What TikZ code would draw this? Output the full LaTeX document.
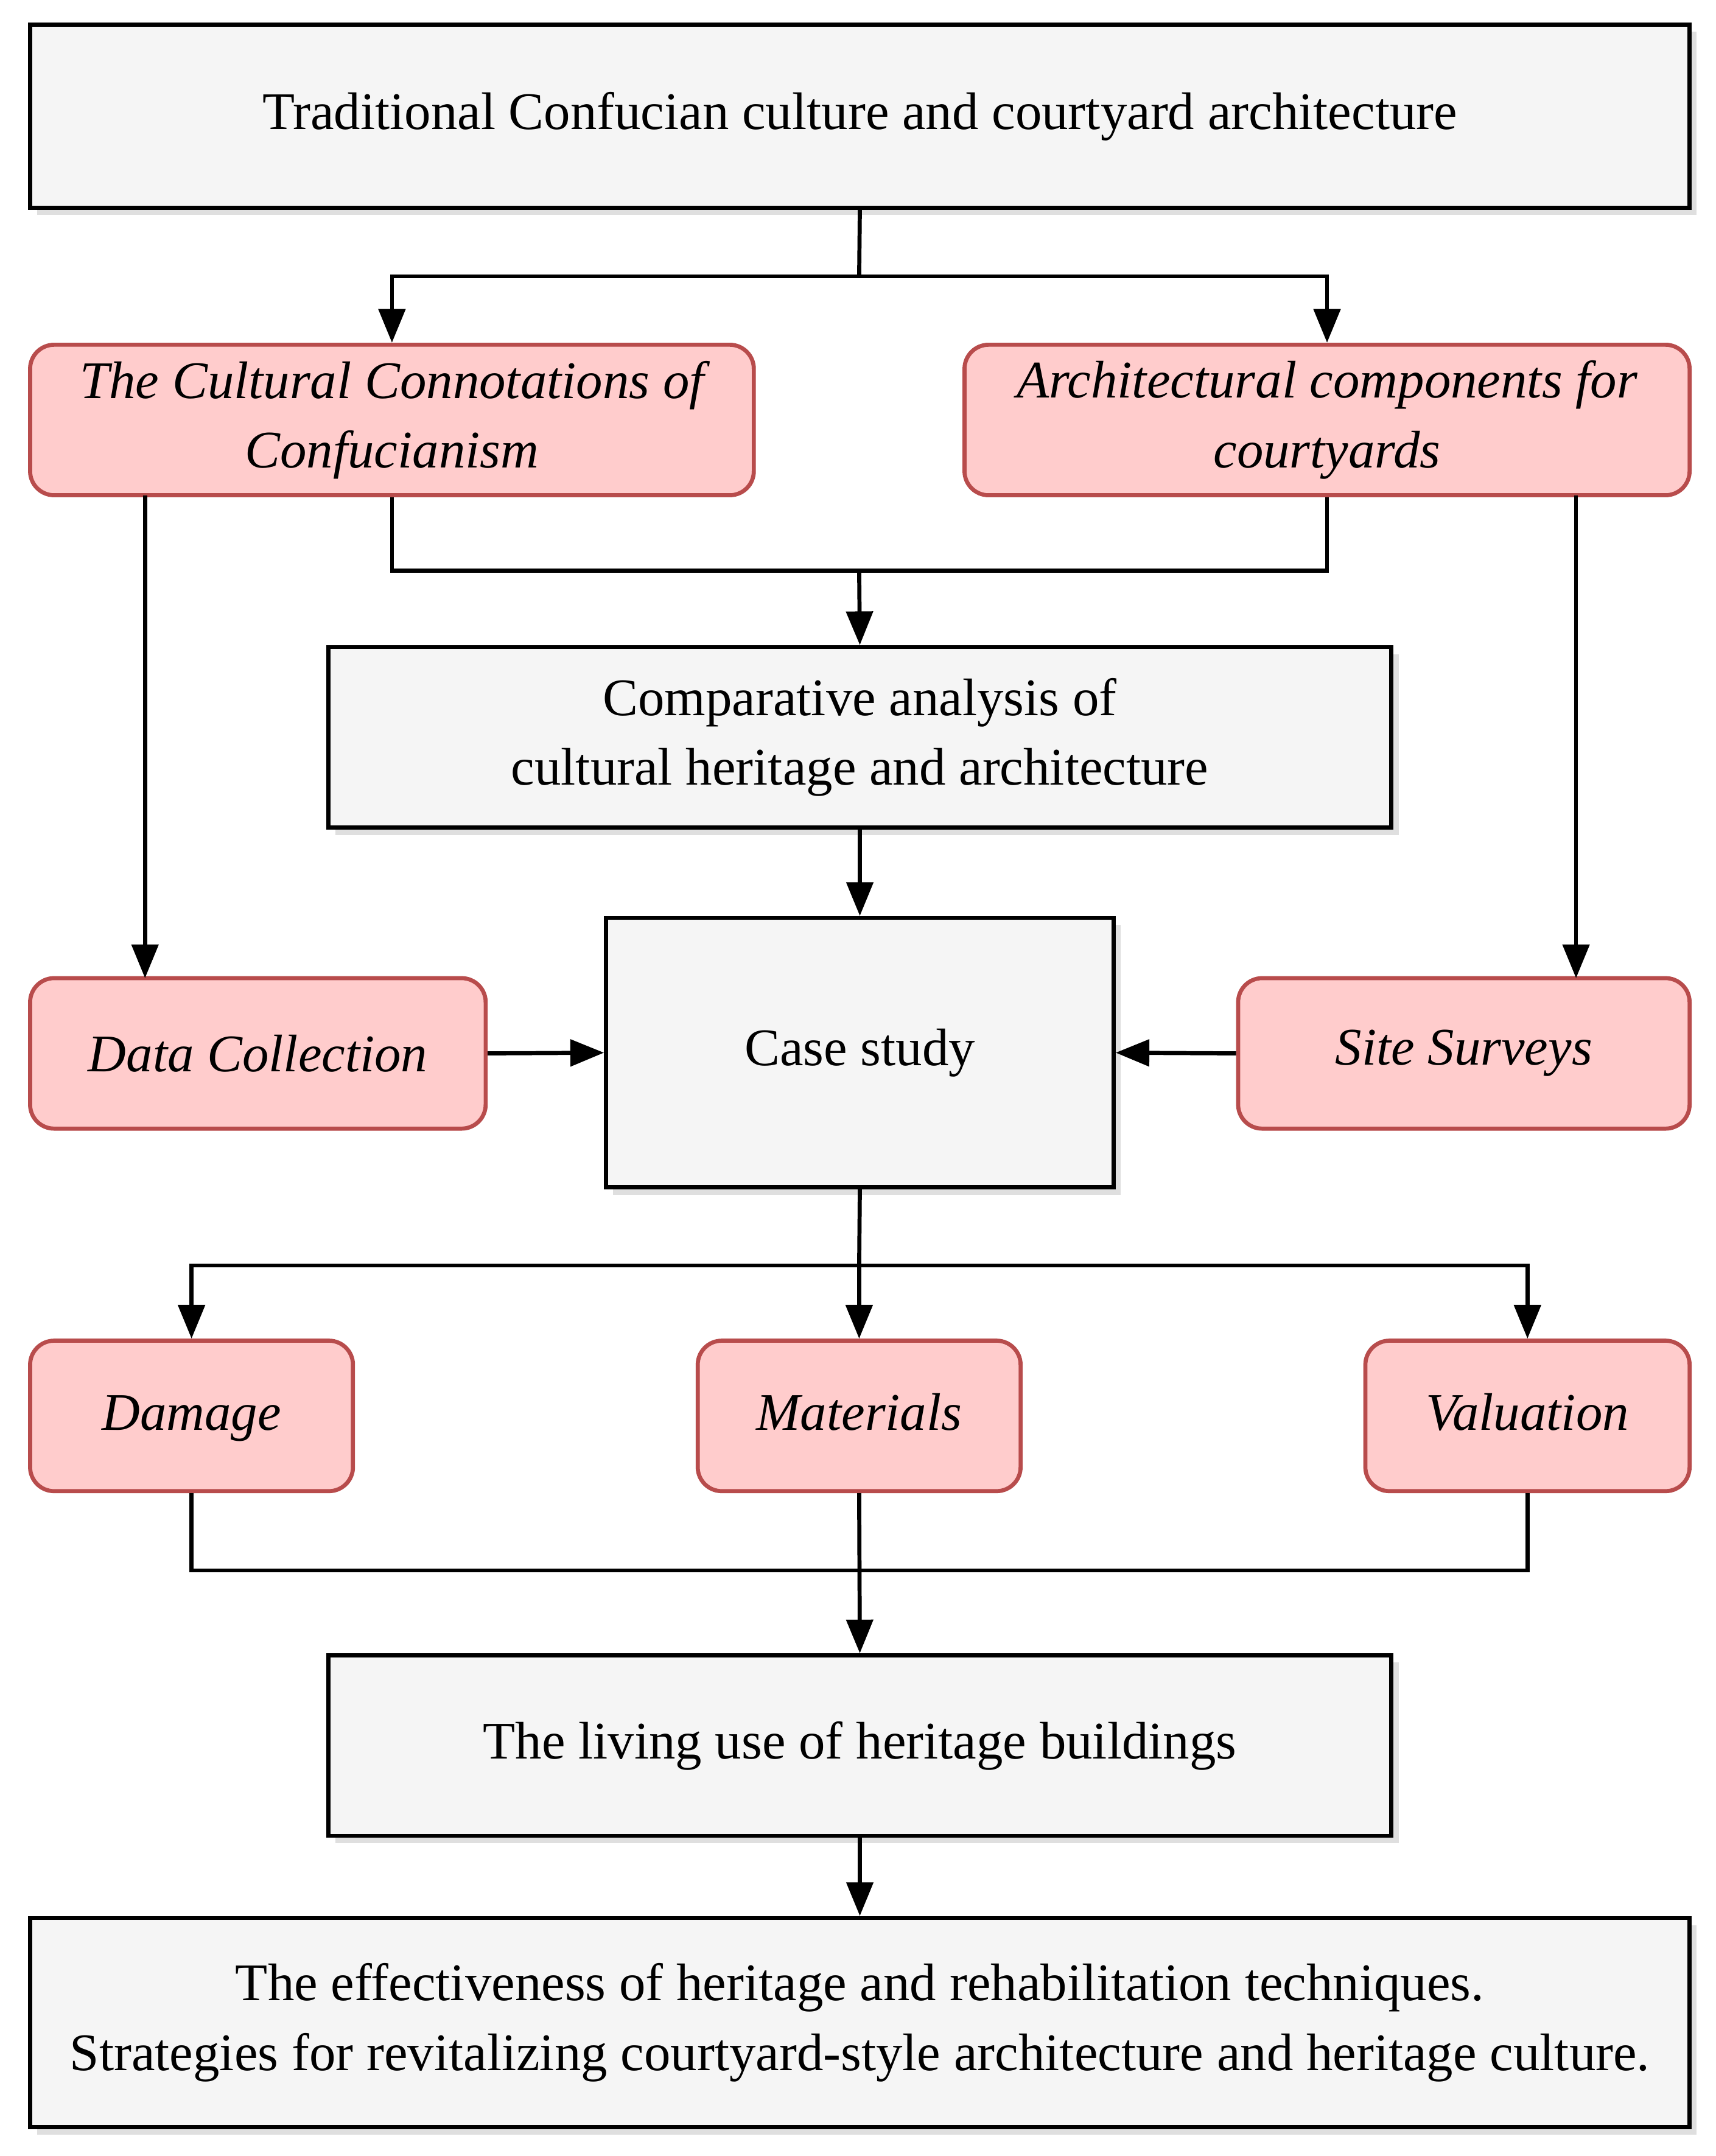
\documentclass[tikz,border=0pt]{standalone}
\usepackage{fontspec}
\setmainfont{Liberation Serif}
\usetikzlibrary{arrows.meta,shadows}
\begin{document}
\begin{tikzpicture}[x=0.02cm,y=-0.02cm,
  gbox/.style={draw=black,line width=1.7pt,fill=gray!8,inner sep=0pt,align=center,font=\fontsize{22}{29}\selectfont,
    drop shadow={shadow xshift=3pt,shadow yshift=-3pt,fill=gray!50}},
  rbox/.style={draw=red!60!black!70,line width=1.7pt,fill=red!20,rounded corners=10pt,inner sep=0pt,align=center,font=\fontsize{22}{29}\selectfont\itshape},
  ln/.style={line width=1.7pt},
  ar/.style={line width=1.7pt,-{Triangle[length=14pt,width=11pt]}}]
\useasboundingbox (0,0) rectangle (1254,1576);
\newcommand{\bx}[7]{\node[#1,minimum width={(#4-#3)*0.02cm},minimum height={(#6-#5)*0.02cm}] (#2) at ({(#3+#4)/2},{(#5+#6)/2}) {#7};}
\bx{gbox}{top}{22}{1235}{18}{152}{Traditional Confucian culture and courtyard architecture}
\bx{rbox}{cul}{22}{551}{252}{362}{The Cultural Connotations of\\Confucianism}
\bx{rbox}{arc}{705}{1235}{252}{362}{Architectural components for\\courtyards}
\bx{gbox}{cmp}{240}{1017}{473}{605}{Comparative analysis of\\cultural heritage and architecture}
\bx{rbox}{dat}{22}{355}{715}{825}{Data Collection}
\bx{gbox}{cas}{443}{814}{671}{868}{Case study}
\bx{rbox}{sit}{905}{1235}{715}{825}{Site Surveys}
\bx{rbox}{dam}{22}{258}{980}{1090}{Damage\strut}
\bx{rbox}{mat}{510}{746}{980}{1090}{Materials\strut}
\bx{rbox}{val}{998}{1235}{980}{1090}{Valuation\strut}
\bx{gbox}{liv}{240}{1017}{1210}{1342}{The living use of heritage buildings}
\bx{gbox}{bot}{22}{1235}{1402}{1555}{The effectiveness of heritage and rehabilitation techniques.\\Strategies for revitalizing courtyard-style architecture and heritage culture.}
\coordinate (j1) at (628,202);
\coordinate (j2) at (628,417);
\coordinate (j3) at (628,925);
\coordinate (j4) at (628,1148);
\draw[ln] (top.south) -- (j1);
\draw[ar] (j1) -| (cul.north);
\draw[ar] (j1) -| (arc.north);
\draw[ln] (cul.south) |- (j2);
\draw[ln] (arc.south) |- (j2);
\draw[ar] (j2) -- (cmp.north);
\draw[ar] (106,362) -- (106,715);
\draw[ar] (1152,362) -- (1152,715);
\draw[ar] (cmp.south) -- (cas.north);
\draw[ar] (dat.east) -- (cas.west);
\draw[ar] (sit.west) -- (cas.east);
\draw[ln] (cas.south) -- (j3);
\draw[ar] (j3) -| (dam.north);
\draw[ar] (j3) -- (mat.north);
\draw[ar] (j3) -| (val.north);
\draw[ln] (dam.south) |- (j4);
\draw[ln] (val.south) |- (j4);
\draw[ar] (mat.south) -- (liv.north);
\draw[ar] (liv.south) -- (bot.north);
\end{tikzpicture}
\end{document}
